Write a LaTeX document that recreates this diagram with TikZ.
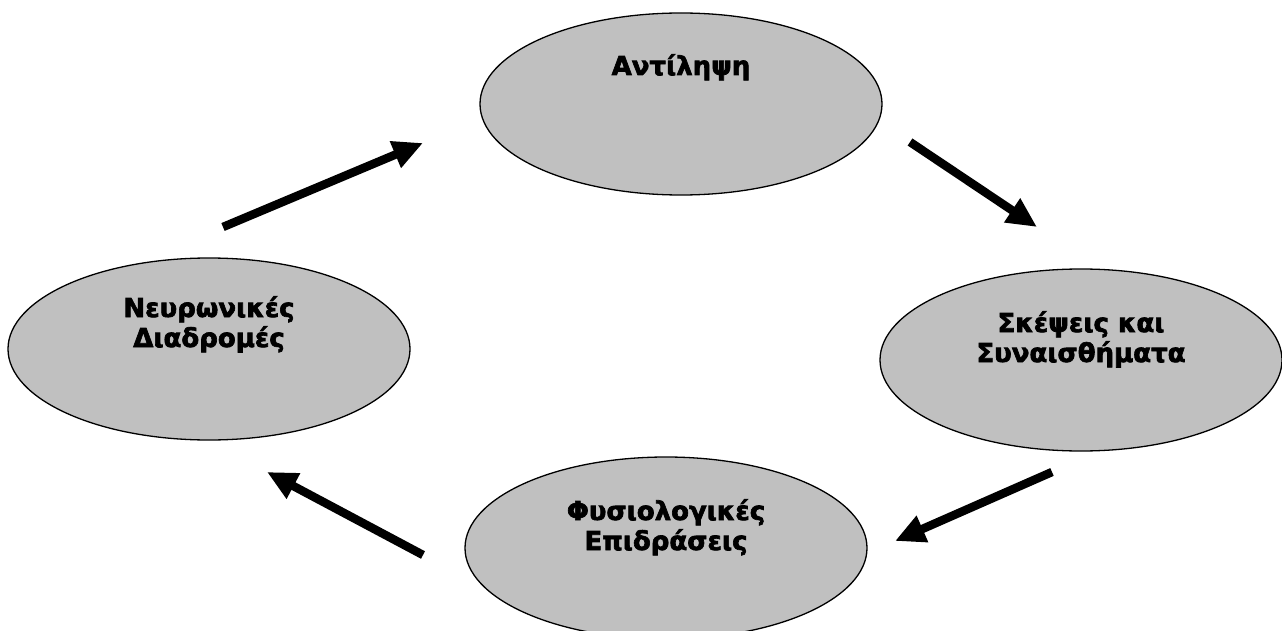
\documentclass[tikz,border=0pt]{standalone}
\usepackage{fontspec}
\setmainfont{DejaVu Sans}[BoldFeatures={FakeBold=2.5}]
\usetikzlibrary{arrows.meta,calc,shapes.geometric}

\definecolor{bubblegray}{HTML}{C0C0C0}

\tikzset{
  bubble/.style={ellipse, draw=black, line width=1.3pt, fill=bubblegray,
    minimum width=402pt, minimum height=182pt, inner sep=0pt},
  caption/.style={font=\fontsize{26}{30}\selectfont\bfseries, align=center,
    anchor=base, inner sep=0pt},
  flow/.style={line width=8.5pt, -{Triangle[length=30pt,width=27pt]}}
}

\begin{document}
\begin{tikzpicture}[x=1pt,y=-1pt]
  \useasboundingbox (0,0) rectangle (1282,631);

  % the four stages of the cycle
  \node[bubble] (perc)  at (681,104) {};
  \node[bubble] (think) at (1081,360) {};
  \node[bubble] (phys)  at (666,548) {};
  \node[bubble] (neur)  at (209,349) {};

  % captions, anchored on the baseline of their last line
  \node[caption] (percT)  at ($(perc.center)+(0,-29)$) {Αντίληψη};
  \node[caption] (thinkT) at ($(think.center)+(0,2)$) {Σκέψεις και\\Συναισθήματα};
  \node[caption] (physT)  at ($(phys.center)+(0,2)$) {Φυσιολογικές\\Επιδράσεις};
  \node[caption] (neurT)  at ($(neur.center)+(0,-2)$) {Νευρωνικές\\Διαδρομές};

  % arrow end points between the stages
  \coordinate (a1s) at (223,227);  \coordinate (a1e) at (423,143);
  \coordinate (a2s) at (910,142);  \coordinate (a2e) at (1037,227);
  \coordinate (a3s) at (1052,472); \coordinate (a3e) at (895,541);
  \coordinate (a4s) at (423,555);  \coordinate (a4e) at (267,472);

  \draw[flow] (a1s) -- (a1e);
  \draw[flow] (a2s) -- (a2e);
  \draw[flow] (a3s) -- (a3e);
  \draw[flow] (a4s) -- (a4e);
\end{tikzpicture}
\end{document}
